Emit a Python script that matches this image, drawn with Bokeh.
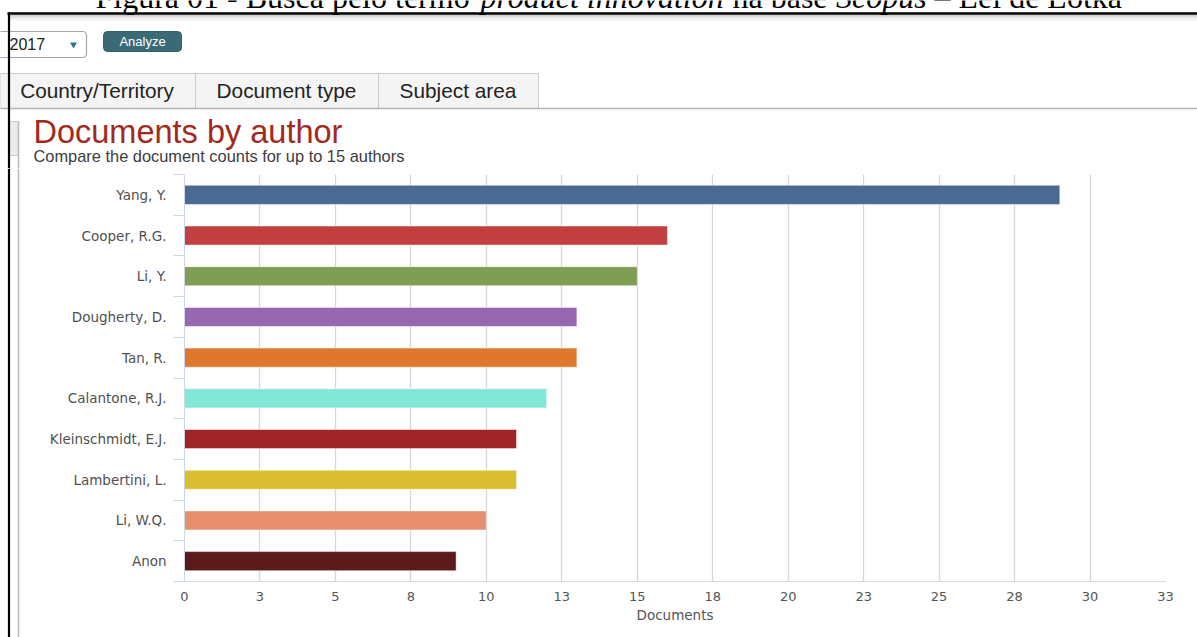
from bokeh.plotting import figure
from bokeh.models import Range1d, FixedTicker, ColumnDataSource
from bokeh.layouts import column, row
from bokeh.embed import file_html
from bokeh.resources import INLINE
from bokeh.core.properties import value

# Data
authors = ["Yang, Y.", "Cooper, R.G.", "Li, Y.", "Dougherty, D.", "Tan, R.",
           "Calantone, R.J.", "Kleinschmidt, E.J.", "Lambertini, L.", "Li, W.Q.", "Anon"]
documents = [29, 16, 15, 13, 13, 12, 11, 11, 10, 9]
bar_colors = ["#496b92", "#c1403f", "#7f9d53", "#9767b0", "#df782d",
              "#80e8d4", "#a12427", "#dbbf33", "#e88f70", "#5d1a1b"]
x_ticks = [0, 2.5, 5, 7.5, 10, 12.5, 15, 17.5, 20, 22.5, 25, 27.5, 30, 32.5]
x_tick_labels = ["0", "3", "5", "8", "10", "13", "15", "18", "20", "23", "25", "28", "30", "33"]
tab_names = ["Country/Territory", "Document type", "Subject area"]

W, H = 1197, 637
H_HEAD = 168
STRIP_W = 20
SANS = "Liberation Sans"
SERIF = "Liberation Serif"
AXIS_FONT = "DejaVu Sans"


def plain_canvas(width, height):
    """A figure whose data coordinates are its own pixels (y downwards)."""
    f = figure(width=width, height=height, x_range=Range1d(0, width),
               y_range=Range1d(height, 0), toolbar_location=None, output_backend="svg",
               min_border=0, x_axis_location=None, y_axis_location=None,
               outline_line_color=None, frame_align=False)
    f.xgrid.visible = False
    f.ygrid.visible = False
    return f


# ---------------- header: caption, controls, tabs, title ----------------
head = plain_canvas(W, H_HEAD)

# figure caption (serif, italic terms)
cap_y = -3.5
cap_size = "32px"
head.text(x=[95, 732, 934], y=[cap_y] * 3,
          text=["Figura 01 - Busca pelo termo", "na base", "\u2013 Lei de Lotka"],
          text_font=value(SERIF), text_font_size=cap_size,
          text_color="black", text_baseline="middle")
head.text(x=[480, 835.5], y=[cap_y] * 2, text=["product innovation", "Scopus"],
          text_font=value(SERIF), text_font_size=cap_size,
          text_font_style="italic", text_color="black", text_baseline="middle")

# frame edge with soft shadow
shade = ["#cfcfcf", "#dcdcdc", "#e6e6e6", "#eeeeee", "#f4f4f4", "#f9f9f9"]
head.segment(x0=[8] * len(shade), x1=[W] * len(shade),
             y0=[15 + i for i in range(len(shade))], y1=[15 + i for i in range(len(shade))],
             line_color=shade, line_width=1)
head.segment(x0=[7], x1=[W], y0=[13], y1=[13], line_color="black", line_width=2.4)

# year dropdown
head.quad(left=[-6], right=[86], top=[31], bottom=[57], fill_color="white",
          line_color="#a6a6a6", line_width=1.2, border_radius=4)
head.text(x=[9], y=[43], text=["2017"], text_font=value(SANS), text_font_size="16px",
          text_color="#222222", text_baseline="middle")
head.scatter(x=[73], y=[44], marker="inverted_triangle", size=7,
             fill_color="#2b7888", line_color=None)

# analyze button
head.quad(left=[103], right=[181], top=[31], bottom=[51], fill_color="#3b6a77",
          line_color="#32606c", border_radius=4)
head.text(x=[142], y=[41], text=["Analyze"], text_font=value(SANS), text_font_size="13px",
          text_color="white", text_align="center", text_baseline="middle")

# tabs
tab_left = [0, 195, 378]
tab_right = [195, 378, 538]
tab_center = [96.5, 286, 457.5]
head.quad(left=tab_left, right=tab_right, top=[73] * 3, bottom=[108] * 3,
          fill_color="#f4f4f4", line_color="#c9c9c9", line_width=1)
head.text(x=tab_center, y=[90] * 3, text=tab_names, text_font=value(SANS),
          text_font_size="20.8px", text_color="#222222", text_align="center",
          text_baseline="middle")
head.segment(x0=[0], x1=[W], y0=[108], y1=[108], line_color="#b4b4b4", line_width=1.4)

# side panel tab and border
head.quad(left=[8], right=[18], top=[121], bottom=[155], fill_color="#ebebeb",
          line_color="#cdcdcd", line_width=1)
head.segment(x0=[18], x1=[18], y0=[121], y1=[H_HEAD], line_color="#bdbdbd", line_width=1.6)
head.segment(x0=[8.5], x1=[8.5], y0=[12], y1=[H_HEAD], line_color="black", line_width=2.2)

# chart title and subtitle
head.text(x=[33], y=[131], text=["Documents by author"], text_font=value(SANS),
          text_font_size="32.5px", text_color="#a3291d", text_baseline="middle")
head.text(x=[33], y=[155], text=["Compare the document counts for up to 15 authors"],
          text_font=value(SANS), text_font_size="16.4px", text_color="#3c3c3c",
          text_baseline="middle")

# ---------------- left strip: page frame lines ----------------
H_BODY = H - H_HEAD
strip = plain_canvas(STRIP_W, H_BODY)
strip.segment(x0=[18], x1=[18], y0=[0], y1=[H_BODY], line_color="#bdbdbd", line_width=1.6)
strip.segment(x0=[8.5], x1=[8.5], y0=[0], y1=[H_BODY], line_color="black", line_width=2.2)

# ---------------- bar chart ----------------
n = len(authors)
chart = figure(width=W - STRIP_W, height=H_BODY,
               x_range=Range1d(x_ticks[0], x_ticks[-1]), y_range=Range1d(n - 0.5, -0.5),
               toolbar_location=None, output_backend="svg", frame_align=False,
               min_border_left=164, min_border_right=32, min_border_top=6,
               min_border_bottom=56, outline_line_color=None)

src = ColumnDataSource(dict(pos=list(range(n)), author=authors,
                            docs=documents, color=bar_colors))
chart.hbar(y="pos", left=0, right="docs", height=0.47, fill_color="color",
           line_color="white", line_alpha=0.5, line_width=1, source=src)

xticker = FixedTicker(ticks=x_ticks)
xa = chart.xaxis[0]
xa.ticker = xticker
xa.major_label_overrides = {t: lab for t, lab in zip(x_ticks, x_tick_labels)}
xa.major_tick_out = 0
xa.major_tick_in = 0
xa.minor_tick_line_color = None
xa.axis_line_color = "#d3dbe7"
xa.major_label_standoff = 10
xa.major_label_text_font = AXIS_FONT
xa.major_label_text_font_size = "13px"
xa.major_label_text_color = "#555555"
xa.axis_label = "Documents"
xa.axis_label_text_font = AXIS_FONT
xa.axis_label_text_font_size = "13.5px"
xa.axis_label_text_font_style = "normal"
xa.axis_label_text_color = "#555555"
xa.axis_label_standoff = 3

chart.xgrid.ticker = xticker
chart.xgrid.grid_line_color = "#d7d7d7"
chart.xgrid.grid_line_width = 1.3
chart.ygrid.visible = False

ya = chart.yaxis[0]
ya.ticker = FixedTicker(ticks=list(range(n)), minor_ticks=[i - 0.5 for i in range(n + 1)])
ya.major_label_overrides = {i: a for i, a in enumerate(authors)}
ya.major_tick_out = 0
ya.major_tick_in = 0
ya.minor_tick_in = 0
ya.minor_tick_out = 11
ya.minor_tick_line_color = "#ccd6eb"
ya.axis_line_color = "#ccd6eb"
ya.major_label_standoff = 7
ya.major_label_text_font = AXIS_FONT
ya.major_label_text_font_size = "13.5px"
ya.major_label_text_color = "#505050"

layout = column(head, row(strip, chart, spacing=0), spacing=0)

open("out.html", "w").write(file_html(layout, INLINE))
